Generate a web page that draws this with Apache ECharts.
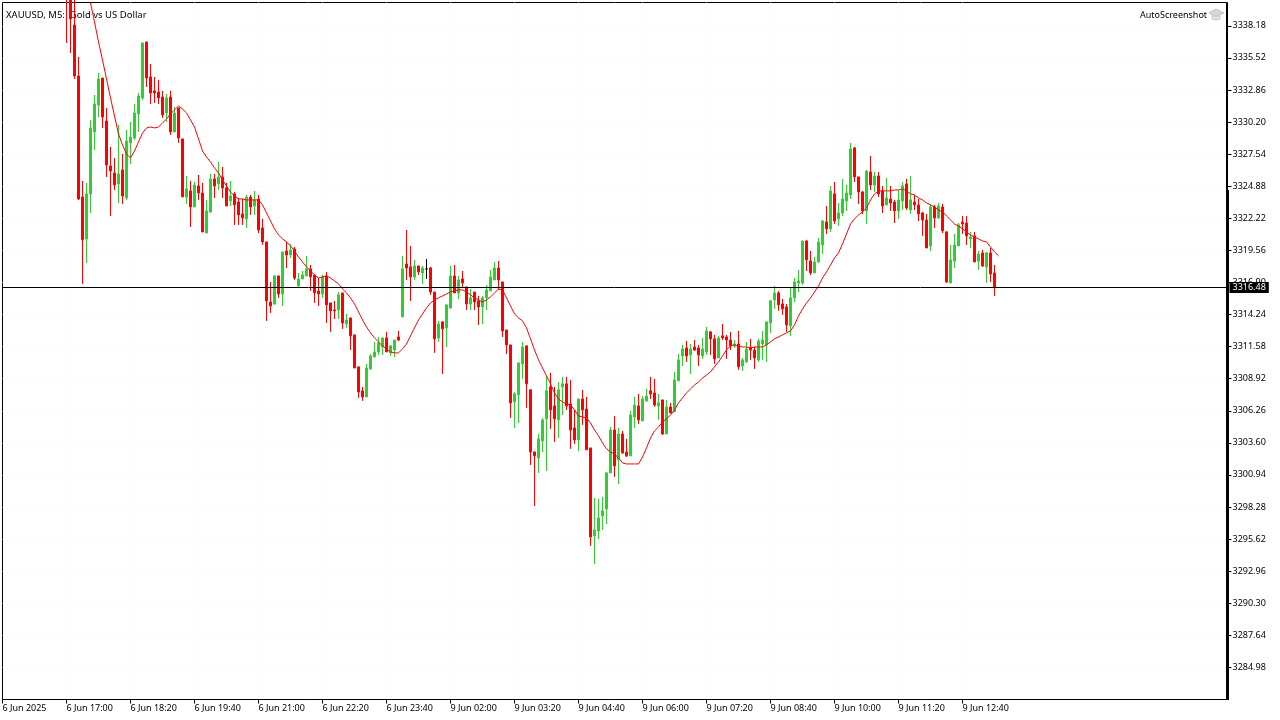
<!DOCTYPE html>
<html><head><meta charset="utf-8">
<script src="https://cdn.jsdelivr.net/npm/echarts@6/dist/echarts.min.js"></script>
<style>html,body{margin:0;padding:0;background:#fff}#c{width:1280px;height:720px}</style>
</head><body><div id="c"></div>
<script>
const chartTitle = 'XAUUSD, M5:  Gold vs US Dollar';
const watermark = 'AutoScreenshot';
const currentPrice = 3316.48;
const timeLabels = ['6 Jun 2025','6 Jun 17:00','6 Jun 18:20','6 Jun 19:40','6 Jun 21:00','6 Jun 22:20','6 Jun 23:40','9 Jun 02:00','9 Jun 03:20','9 Jun 04:40','9 Jun 06:00','9 Jun 07:20','9 Jun 08:40','9 Jun 10:00','9 Jun 11:20','9 Jun 12:40'];
const priceTicks = [3338.18,3335.52,3332.86,3330.20,3327.54,3324.88,3322.22,3319.56,3316.90,3314.24,3311.58,3308.92,3306.26,3303.60,3300.94,3298.28,3295.62,3292.96,3290.30,3287.64,3284.98];
const opens = [3343,3342,3338.25,3334.02,3323.99,3320.51,3324.24,3329.38,3331.62,3333.85,
3330.29,3326.56,3325.98,3325.07,3326.23,3323.91,3328.47,3328.88,3330.87,3332.20,
3336.84,3333.94,3332.78,3332.69,3332.28,3330.95,3332.28,3329.38,3331.37,3328.80,
3323.99,3324.49,3323.16,3324.90,3324.32,3321.00,3322.75,3325.48,3325.07,3325.65,
3324.74,3323.66,3324.24,3323.57,3322.58,3322.17,3323.99,3323.24,3323.82,3321.42,
3320.26,3315.28,3315.12,3317.44,3315.95,3319.51,3319.18,3319.68,3316.61,3317.19,
3317.44,3318.02,3317.52,3316.20,3315.95,3317.44,3315.20,3314.62,3314.62,3316.03,
3313.46,3313.96,3312.55,3309.90,3307.91,3307.41,3309.73,3310.72,3311.14,3311.55,
3312.30,3311.06,3311.30,3312.38,3314.04,3318.43,3318.19,3317.36,3318.27,3317.69,
3318.02,3318.10,3316.11,3312.30,3313.63,3313.13,3314.79,3317.44,3316.03,3317.19,
3316.53,3315.12,3316.11,3315.37,3314.87,3315.62,3316.20,3317.11,3318.10,3316.94,
3312.96,3311.72,3307.00,3307.58,3310.14,3311.64,3308.00,3302.85,3302.35,3303.76,
3305.59,3308.24,3306.66,3305.50,3308.24,3308.49,3306.83,3304.84,3303.84,3307.24,
3306.41,3303.18,3295.89,3296.30,3297.54,3298.12,3301.11,3304.67,3302.19,3304.34,
3302.85,3302.52,3305.75,3306.66,3305.42,3307.08,3307.91,3307.74,3306.66,3307.16,
3304.34,3306.58,3306.17,3308.74,3310.81,3311.47,3310.89,3311.55,3311.47,3310.81,
3311.14,3312.80,3312.22,3310.64,3312.47,3312.38,3312.13,3311.64,3311.80,3309.98,
3310.31,3311.47,3311.30,3310.48,3311.80,3311.72,3313.54,3315.45,3316.03,3315.12,
3314.87,3313.29,3315.62,3316.86,3316.86,3320.34,3318.68,3317.69,3318.60,3320.01,
3321.92,3321.34,3324.24,3322.17,3322.66,3323.66,3324.15,3328.05,3325.65,3324.40,
3322.83,3326.06,3324.98,3325.73,3324.49,3323.33,3323.82,3323.57,3322.83,3323.66,
3325.07,3322.91,3323.57,3323.33,3322.66,3322.08,3319.93,3323.16,3322.25,3323.16,
3321.09,3316.86,3318.68,3319.93,3321.92,3321.83,3320.51,3320.76,3318.68,3319.35,
3318.19,3319.35,3317.69];
const closes = [3341,3338.75,3334.02,3323.82,3320.43,3324.24,3329.71,3331.70,3333.77,3330.62,
3326.64,3326.14,3324.98,3325.90,3324.07,3328.63,3328.96,3330.95,3332.36,3336.76,
3333.85,3332.61,3332.61,3332.20,3330.79,3332.20,3329.38,3330.95,3328.88,3323.99,
3324.65,3323.16,3324.98,3324.32,3321.09,3322.83,3325.48,3324.90,3325.65,3324.74,
3323.24,3324.07,3323.33,3322.50,3322.25,3323.99,3323.16,3323.74,3321.25,3320.26,
3315.37,3314.95,3317.44,3315.95,3319.43,3319.18,3319.59,3317.27,3317.19,3317.52,
3318.02,3317.36,3316.03,3315.95,3317.36,3315.04,3314.54,3314.54,3315.87,3313.54,
3313.79,3312.47,3309.81,3307.82,3307.41,3309.81,3310.81,3311.14,3311.89,3312.30,
3311.14,3311.64,3312.13,3312.13,3318.02,3318.10,3317.36,3318.27,3317.77,3318.10,
3318.02,3316.11,3312.22,3313.46,3313.05,3315.04,3317.44,3316.03,3317.11,3316.86,
3315.12,3315.62,3315.28,3314.87,3315.62,3316.28,3317.36,3318.10,3317.11,3312.88,
3311.72,3306.91,3307.66,3310.23,3311.55,3308.49,3302.85,3302.52,3303.93,3305.50,
3307.91,3306.33,3305.59,3308.00,3308.49,3306.66,3304.67,3303.84,3307.24,3306.33,
3303.02,3295.80,3296.38,3297.38,3297.96,3301.11,3304.67,3301.69,3304.34,3302.77,
3302.52,3305.91,3306.74,3305.50,3307.24,3307.49,3307.66,3306.74,3306.91,3304.34,
3306.58,3306.08,3308.82,3310.48,3311.39,3310.81,3311.39,3311.30,3310.89,3311.39,
3312.88,3312.22,3310.56,3312.30,3312.30,3312.13,3311.64,3311.80,3309.90,3310.48,
3311.39,3311.30,3310.64,3312.05,3312.13,3313.63,3315.37,3316.03,3315.04,3314.71,
3313.38,3315.62,3316.94,3317.02,3320.34,3318.77,3317.69,3318.60,3320.26,3322.00,
3321.34,3324.49,3322.00,3322.66,3323.82,3324.32,3327.97,3325.65,3324.40,3322.83,
3326.14,3324.98,3325.73,3324.24,3323.24,3323.91,3323.49,3322.83,3323.74,3324.90,
3323.08,3323.74,3323.33,3322.58,3322.08,3319.76,3323.16,3322.25,3323.24,3321.17,
3316.94,3318.77,3320.01,3321.67,3321.75,3320.76,3320.67,3318.60,3319.26,3318.27,
3319.35,3317.60,3316.48];
const lows = [3336.76,3335.93,3333.77,3323.74,3316.78,3318.52,3322.66,3327.88,3330.62,3329.71,
3325.65,3322.41,3324.57,3323.49,3323.41,3323.74,3326.72,3328.71,3329.38,3332.03,
3333.11,3331.70,3331.78,3331.70,3330.54,3330.21,3329.13,3329.38,3328.47,3323.99,
3323.41,3321.50,3323.16,3323.74,3321.09,3321.00,3322.66,3323.91,3324.57,3323.91,
3323.24,3323.24,3321.67,3321.67,3321.67,3321.42,3322.50,3322.50,3321.00,3320.01,
3313.71,3314.37,3315.04,3315.62,3314.95,3318.10,3318.93,3317.11,3316.53,3317.19,
3317.44,3316.20,3315.20,3314.95,3315.62,3313.54,3312.80,3313.87,3313.87,3313.05,
3313.13,3311.30,3309.81,3307.33,3307.08,3307.41,3309.65,3310.72,3310.89,3310.89,
3311.14,3310.81,3310.72,3312.05,3314.04,3317.11,3315.37,3317.11,3317.52,3316.78,
3317.19,3315.87,3311.06,3311.97,3309.32,3311.55,3314.71,3316.03,3315.53,3316.53,
3314.62,3314.62,3314.62,3313.38,3313.46,3314.62,3316.20,3317.11,3316.28,3312.38,
3310.97,3305.67,3304.84,3305.25,3308.90,3306.50,3301.77,3298.37,3301.11,3302.85,
3301.27,3304.76,3303.68,3304.01,3305.91,3306.33,3303.10,3303.51,3302.93,3305.09,
3303.02,3295.06,3293.57,3295.63,3296.38,3296.88,3301.11,3300.78,3300.19,3302.68,
3302.43,3302.52,3304.84,3305.17,3305.42,3307.00,3307.24,3306.58,3305.50,3304.26,
3304.34,3306.08,3306.17,3308.74,3309.98,3310.31,3309.32,3311.22,3309.98,3310.56,
3310.89,3310.89,3310.14,3310.64,3312.13,3310.56,3311.30,3311.47,3309.65,3309.57,
3310.23,3310.48,3309.73,3310.31,3310.48,3310.31,3312.72,3314.71,3314.54,3314.21,
3312.80,3312.47,3315.28,3316.11,3316.69,3317.85,3317.52,3317.69,3318.52,3319.26,
3320.92,3321.09,3321.75,3321.59,3322.41,3322.83,3323.82,3325.23,3323.41,3322.58,
3321.75,3324.57,3324.40,3323.99,3322.66,3323.33,3322.83,3321.83,3322.17,3322.91,
3322.91,3322.58,3322.91,3321.99,3320.76,3319.76,3319.51,3321.42,3322.17,3321.00,
3316.86,3316.86,3318.10,3319.93,3320.92,3320.01,3319.76,3318.60,3317.94,3318.19,
3316.86,3316.94,3315.78];
const highs = [3344,3343,3341.5,3335.60,3325.32,3325.15,3330.37,3332.44,3334.27,3333.85,
3331.37,3328.13,3327.22,3329.96,3327.55,3329.54,3330.21,3331.70,3332.61,3336.76,
3336.84,3335.01,3333.94,3333.69,3332.78,3332.53,3332.78,3331.45,3331.37,3328.80,
3325.73,3325.32,3325.23,3325.81,3325.15,3323.74,3325.90,3325.90,3326.89,3326.47,
3325.15,3325.32,3324.40,3323.91,3323.82,3324.15,3324.15,3324.49,3324.15,3322.17,
3320.26,3316.94,3317.52,3317.44,3319.43,3320.26,3320.09,3319.84,3317.69,3317.85,
3319.10,3318.35,3317.52,3317.27,3317.52,3317.77,3315.20,3315.37,3316.11,3316.03,
3314.29,3313.96,3312.55,3309.90,3308.24,3310.14,3310.97,3311.97,3312.38,3312.30,
3312.80,3311.72,3312.13,3312.88,3319.10,3321.25,3319.93,3318.77,3318.27,3318.27,
3318.85,3318.19,3316.11,3313.71,3313.63,3315.04,3318.27,3318.35,3317.44,3317.85,
3316.53,3316.36,3316.11,3315.78,3315.78,3316.69,3317.94,3318.60,3318.68,3316.94,
3312.96,3311.72,3307.82,3310.23,3311.97,3311.64,3308.00,3302.85,3304.34,3305.67,
3309.15,3309.40,3308.24,3308.65,3309.07,3309.07,3308.82,3306.33,3307.24,3307.99,
3307.41,3303.18,3299.03,3298.95,3299.12,3301.19,3304.92,3305.83,3304.84,3304.59,
3303.93,3306.25,3307.41,3307.66,3307.49,3308.07,3309.07,3308.90,3307.66,3307.16,
3307.16,3306.91,3309.48,3310.97,3311.72,3312.05,3311.80,3312.13,3311.72,3312.30,
3313.21,3312.88,3312.55,3312.47,3313.46,3312.55,3312.80,3312.13,3312.88,3310.64,
3311.97,3312.22,3311.55,3312.22,3312.88,3313.63,3315.45,3316.61,3316.20,3315.53,
3315.12,3316.45,3317.27,3317.94,3320.34,3320.43,3319.51,3319.02,3320.59,3322.08,
3323.24,3324.90,3325.23,3323.49,3325.48,3324.98,3328.47,3328.13,3325.65,3324.49,
3326.23,3327.39,3326.06,3326.06,3324.90,3325.56,3324.90,3323.74,3324.57,3325.23,
3325.48,3325.73,3324.15,3323.82,3322.75,3322.58,3323.41,3323.33,3323.49,3323.41,
3321.17,3320.01,3320.92,3321.83,3322.41,3322.41,3321.09,3321.09,3319.51,3319.59,
3319.43,3319.76,3318.35];
const movingAverage = [null,null,null,null,null,null,
3340.07,3338.50,3336.84,3335.35,3333.77,3332.20,3330.70,3329.21,3328.30,3327.55,3327.22,3327.80,3328.55,3329.29,3329.71,3329.79,3329.71,3329.79,3330.12,3330.45,3330.87,3331.20,3331.53,3331.28,3330.95,3330.37,3329.79,3328.80,3327.80,3327.30,3326.89,3326.39,3325.98,3325.40,3324.90,3324.40,3324.07,3323.82,3323.82,3323.74,3323.74,3323.74,3323.74,
3323.33,3322.66,3322.00,3321.34,3320.84,3320.51,3320.26,3319.93,3319.51,3319.01,3318.60,3318.19,3317.85,3317.52,3317.27,3317.36,3317.44,3317.27,3317.03,3316.78,3316.36,3316.03,3315.62,3315.12,3314.46,3313.79,3313.21,3312.72,3312.30,3311.97,3311.64,3311.39,3311.14,3311.06,3311.06,3311.39,3311.80,3312.47,3313.13,3313.79,3314.29,3314.79,3315.20,3315.45,3315.62,3315.78,3315.95,3316.11,3316.20,3316.28,3316.28,3316.11,3315.87,3315.62,3315.45,3315.28,3315.45,3315.70,3316.03,3316.36,3316.28,3315.62,3314.95,3314.29,3313.96,3313.71,3313.13,3312.22,3311.30,3310.48,3309.81,3309.15,3308.49,3307.74,3307.24,3306.99,3306.83,3306.74,3306.33,3305.83,3305.75,3305.67,3305.25,3304.67,3304.18,3303.60,3303.10,3302.85,3302.68,3302.35,3301.94,3301.85,3301.85,3301.85,3301.85,3302.43,3303.18,3304.01,3304.59,3304.92,3305.34,3305.59,3305.91,3306.33,3306.91,3307.33,3307.74,3308.07,3308.40,3308.65,3308.98,3309.23,3309.48,3309.90,3310.31,3310.81,3311.30,3311.64,3311.72,3311.64,3311.55,3311.55,3311.47,3311.55,3311.55,3311.55,3311.72,3311.97,3312.22,3312.38,3312.55,3312.72,3312.88,3313.38,3314.12,3314.70,3315.20,3315.62,3316.11,3316.61,3317.27,3317.77,3318.35,3318.93,3319.35,3320.09,3320.92,3321.75,3322.17,3322.50,3322.75,3323.08,3323.74,3324.24,3324.49,3324.49,3324.49,3324.49,3324.57,3324.57,3324.65,3324.49,3324.24,3324.15,3323.91,3323.74,3323.49,3323.33,3323.16,3322.91,3322.75,3322.41,3322.08,3321.75,3321.59,3321.34,3321.09,3320.84,3320.67,3320.51,3320.34,3320.26,3319.84,3319.43,3319.10];

const SLOTS = 307, LABEL_STEP = 16, FIRST_BAR = 16;
const categories = [];
for (let i = 0; i < SLOTS; i++) categories.push(i % LABEL_STEP === 0 && timeLabels[i / LABEL_STEP] ? timeLabels[i / LABEL_STEP] : '');
const candleData = opens.map((o, k) => [FIRST_BAR + k, o, closes[k], lows[k], highs[k]]);
const maData = movingAverage.map((v, k) => [FIRST_BAR + k, v]);
const FONT = '"Noto Sans", sans-serif';
const labelled = (i, v) => v !== '';
const gridded = (i, v) => v !== '' && i > 0;

const chart = echarts.init(document.getElementById('c'), null, {renderer: 'canvas'});
chart.setOption({
  animation: false,
  backgroundColor: '#fff',
  title: [
    {text: chartTitle, left: 1, top: 4, z: 0, textStyle: {fontFamily: FONT, fontSize: 9.5, fontWeight: 'normal', color: '#000', lineHeight: 12}},
    {text: watermark, left: 1135, top: 4, z: 0, textStyle: {fontFamily: FONT, fontSize: 9, fontWeight: 'normal', color: '#000', lineHeight: 12}}
  ],
  grid: {left: 2.5, top: 2.5, width: 1224, height: 697, outerBoundsMode: 'none', containLabel: false, show: true, borderColor: '#000', borderWidth: 1, backgroundColor: 'transparent'},
  xAxis: {
    type: 'category', data: categories, boundaryGap: false,
    axisLine: {show: true, lineStyle: {color: '#000', width: 1}},
    axisTick: {show: true, interval: labelled, length: 4, lineStyle: {color: '#000'}},
    splitLine: {show: true, interval: gridded, lineStyle: {color: '#f3f3f3', type: [1, 3]}},
    axisLabel: {interval: labelled, align: 'left', margin: 4, color: '#000', fontFamily: FONT, fontSize: 9, hideOverlap: false}
  },
  yAxis: {
    type: 'value', position: 'right', offset: 1,
    min: 3282.32, max: 3340.11, scale: true,
    axisLine: {show: true, lineStyle: {color: '#000', width: 1}},
    axisTick: {show: true, length: 4, customValues: priceTicks, lineStyle: {color: '#000'}},
    splitLine: {show: true, lineStyle: {color: '#f3f3f3', type: [1, 3]}},
    axisLabel: {customValues: priceTicks, margin: 5, padding: [2, 0, 0, 0], color: '#000', fontFamily: FONT, fontSize: 9, formatter: v => v.toFixed(2)}
  },
  series: [
    {
      type: 'candlestick', data: candleData, encode: {x: 0, y: [1, 2, 3, 4]}, barWidth: 2, clip: true, z: 3,
      itemStyle: {color: '#32cd32', color0: '#ff0000', borderColor: '#32cd32', borderColor0: '#ff0000', borderColorDoji: '#000', borderWidth: 1},
      markLine: {
        silent: true, symbol: 'none', animation: false, z: 6,
        lineStyle: {color: '#000', width: 1, type: 'solid'},
        label: {show: true, position: 'end', distance: 3, formatter: () => currentPrice.toFixed(2), color: '#fff', backgroundColor: '#000', fontFamily: FONT, fontSize: 9, padding: [1, 3, 1, 3]},
        data: [{yAxis: currentPrice}]
      }
    },
    {type: 'line', data: maData, showSymbol: false, symbol: 'none', connectNulls: false, clip: true, z: 4, lineStyle: {color: '#ff0000', width: 1}, itemStyle: {color: '#ff0000'}}
  ],
  graphic: [
    {type: 'rect', left: 1226, top: 190, shape: {width: 3, height: 510}, style: {fill: '#000'}, z: 5, silent: true},
    {type: 'polygon', shape: {points: [[1209,13],[1216,9],[1224,13],[1216,16]]}, style: {fill: '#d8d8d8', stroke: '#c4c4c4', lineWidth: 1}, z: 5, silent: true},
    {type: 'polygon', shape: {points: [[1212,15],[1216,17],[1220,15],[1220,19],[1216,20],[1212,19]]}, style: {fill: '#e4e4e4', stroke: '#cccccc', lineWidth: 1}, z: 5, silent: true}
  ]
});
</script></body></html>
